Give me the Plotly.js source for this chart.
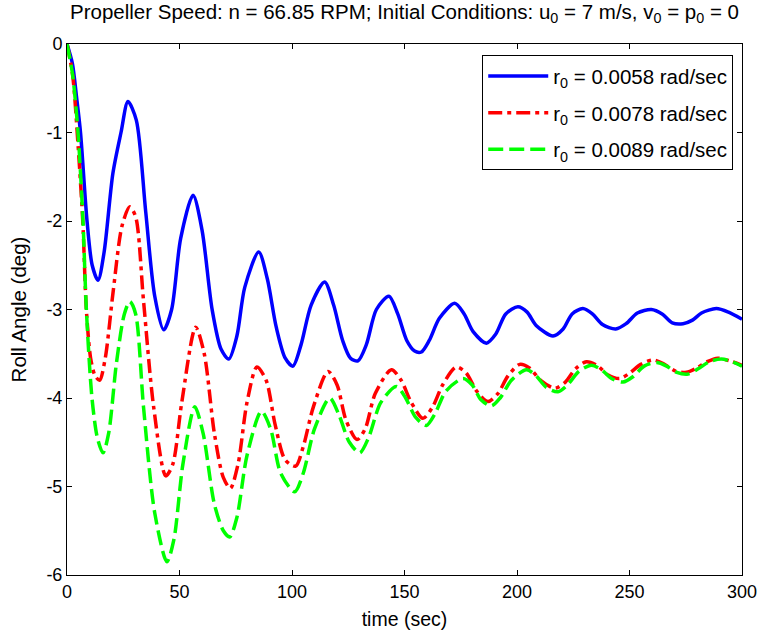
<!DOCTYPE html>
<html>
<head>
<meta charset="utf-8">
<script src="https://cdn.plot.ly/plotly-3.0.1.min.js"></script>
<style>html,body{margin:0;padding:0;background:#fff;}#plot{width:761px;height:636px;}</style>
</head>
<body>
<div id="plot"></div>
<script>
// Series 1: r0 = 0.0058 rad/sec
const tBlue = [0, 2.4, 4.2, 6.0, 8.9, 11.2, 13.8, 16.5, 20.4, 24.0, 27.1, 30.8, 35.0, 39.0, 43.0, 46.5, 50.5, 56.0, 60.0, 64.5, 68.5, 71.9, 75.5, 79.0, 85.2, 89.0, 93.0, 97.0, 100.4, 104.0, 108.5, 114.5, 118.5, 122.5, 126.0, 129.3, 133.0, 137.5, 143.1, 147.0, 151.0, 154.5, 157.5, 161.0, 165.5, 172.3, 176.5, 180.5, 186.4, 190.5, 195.0, 200.4, 204.5, 208.5, 216.0, 220.5, 224.5, 229.3, 233.5, 238.0, 243.9, 248.5, 253.5, 259.7, 264.5, 269.0, 273.8, 278.0, 282.0, 288.6, 294.0, 300];
const yBlue = [0, -0.22, -0.59, -1.0, -2.0, -2.5, -2.67, -2.35, -1.46, -1.0, -0.65, -0.86, -1.9, -2.85, -3.23, -3.0, -2.2, -1.71, -2.1, -3.0, -3.45, -3.56, -3.3, -2.75, -2.35, -2.65, -3.2, -3.55, -3.64, -3.4, -2.95, -2.69, -2.95, -3.35, -3.55, -3.58, -3.4, -3.0, -2.85, -3.05, -3.35, -3.47, -3.48, -3.35, -3.1, -2.93, -3.05, -3.25, -3.38, -3.28, -3.05, -2.97, -3.03, -3.18, -3.30, -3.22, -3.05, -2.99, -3.05, -3.17, -3.22, -3.16, -3.04, -3.00, -3.05, -3.15, -3.16, -3.12, -3.04, -2.99, -3.03, -3.11];

// Series 2: r0 = 0.0078 rad/sec
const tRed = [0, 2.5, 4.8, 7.0, 8.6, 10.5, 12.5, 14.5, 17.0, 20.5, 24.5, 27.9, 30.5, 34.0, 38.5, 43.9, 47.0, 51.0, 57.2, 61.0, 65.5, 69.5, 72.6, 76.0, 80.0, 84.4, 88.5, 92.5, 97.0, 101.6, 105.0, 109.5, 116.0, 120.0, 124.0, 128.9, 132.5, 137.0, 144.2, 148.5, 153.0, 158.2, 162.5, 167.0, 173.0, 177.5, 182.0, 187.1, 191.5, 196.0, 201.2, 205.5, 210.5, 216.8, 221.5, 226.0, 230.8, 235.5, 240.5, 245.6, 250.0, 255.0, 260.4, 265.0, 270.0, 275.3, 280.0, 284.5, 289.3, 294.5, 300];
const yRed = [0, -0.35, -1.1, -2.0, -3.0, -3.55, -3.75, -3.80, -3.55, -2.8, -2.05, -1.84, -1.95, -2.9, -4.1, -4.88, -4.75, -4.05, -3.20, -3.5, -4.4, -4.9, -5.02, -4.75, -4.05, -3.65, -3.8, -4.3, -4.7, -4.77, -4.55, -4.1, -3.70, -3.85, -4.25, -4.47, -4.35, -3.95, -3.68, -3.8, -4.05, -4.23, -4.1, -3.85, -3.65, -3.72, -3.92, -4.04, -3.95, -3.75, -3.62, -3.66, -3.8, -3.89, -3.82, -3.67, -3.59, -3.63, -3.74, -3.78, -3.72, -3.62, -3.57, -3.61, -3.69, -3.71, -3.66, -3.59, -3.55, -3.58, -3.63];

// Series 3: r0 = 0.0089 rad/sec
const tGreen = [0, 2.5, 4.9, 7.1, 8.6, 11.1, 13.5, 16.0, 18.5, 22.0, 25.5, 27.9, 30.5, 34.0, 39.0, 44.4, 47.5, 51.5, 56.8, 60.5, 65.5, 69.5, 72.3, 75.5, 80.0, 86.4, 90.5, 95.0, 101.2, 105.0, 110.0, 116.8, 121.0, 125.5, 130.1, 134.0, 139.5, 146.4, 150.5, 155.0, 159.7, 163.5, 168.5, 176.0, 180.0, 184.0, 188.6, 192.5, 197.5, 204.2, 208.5, 213.0, 218.2, 222.5, 227.5, 233.1, 237.5, 242.0, 247.1, 251.5, 256.5, 262.0, 266.5, 271.0, 276.0, 280.5, 285.5, 290.8, 295.5, 300];
const yGreen = [0, -0.35, -1.0, -2.0, -3.0, -4.0, -4.45, -4.62, -4.4, -3.6, -3.05, -2.91, -3.05, -4.1, -5.3, -5.85, -5.6, -4.75, -4.10, -4.4, -5.2, -5.5, -5.57, -5.35, -4.65, -4.15, -4.35, -4.85, -5.06, -4.85, -4.35, -4.00, -4.2, -4.5, -4.62, -4.45, -4.05, -3.87, -4.0, -4.22, -4.31, -4.18, -3.92, -3.78, -3.85, -4.02, -4.09, -4.0, -3.8, -3.68, -3.75, -3.88, -3.93, -3.85, -3.7, -3.63, -3.68, -3.78, -3.82, -3.76, -3.64, -3.60, -3.64, -3.71, -3.73, -3.67, -3.59, -3.56, -3.59, -3.64];

const seriesNames = ['r<sub>0</sub> = 0.0058 rad/sec', 'r<sub>0</sub> = 0.0078 rad/sec', 'r<sub>0</sub> = 0.0089 rad/sec'];
const xTicks = [0, 50, 100, 150, 200, 250, 300];
const xTickText = ['0', '50', '100', '150', '200', '250', '300'];
const yTicks = [0, -1, -2, -3, -4, -5, -6];
const yTickText = ['0', '-1', '-2', '-3', '-4', '-5', '-6'];

const FONT = 'Liberation Sans, Arial, Helvetica, sans-serif';

const traces = [
  {x: tBlue, y: yBlue, name: seriesNames[0], mode: 'lines', legendgroup: 'a',
   line: {color: '#0000ff', width: 3.5, shape: 'spline', smoothing: 0.8}},
  {x: tRed, y: yRed, name: seriesNames[1], mode: 'lines', legendgroup: 'b',
   line: {color: '#ff0000', width: 3.5, dash: '14px,5px,4px,5px', shape: 'spline', smoothing: 0.8}},
  {x: tGreen, y: yGreen, name: seriesNames[2], mode: 'lines', legendgroup: 'c',
   line: {color: '#00ff00', width: 3.5, dash: '15px,6px', shape: 'spline', smoothing: 0.8}}
];

const layout = {
  width: 761, height: 636,
  margin: {l: 67, r: 19, t: 44, b: 61},
  paper_bgcolor: '#fff', plot_bgcolor: '#fff',
  font: {family: FONT, size: 18, color: '#000'},
  title: {text: 'Propeller Speed: n = 66.85 RPM; Initial Conditions: u<sub>0</sub> = 7 m/s, v<sub>0</sub> = p<sub>0</sub> = 0',
          font: {family: FONT, size: 20.5, color: '#000'}, x: 0.5, xref: 'paper', xanchor: 'center',
          y: 0.993, yref: 'container', yanchor: 'top'},
  xaxis: {range: [0, 300], tickvals: xTicks, ticktext: xTickText, ticks: 'inside', ticklen: 5, tickcolor: '#000',
          showline: true, linecolor: '#000', linewidth: 1, mirror: 'ticks', showgrid: false, zeroline: false,
          tickfont: {size: 18}, title: {text: 'time (sec)', font: {size: 19.5}, standoff: 11}},
  yaxis: {range: [-6, 0], tickvals: yTicks, ticktext: yTickText, ticks: 'inside', ticklen: 5, tickcolor: '#000',
          showline: true, linecolor: '#000', linewidth: 1, mirror: 'ticks', showgrid: false, zeroline: false,
          tickfont: {size: 18}, title: {text: 'Roll Angle (deg)', font: {size: 20.5}, standoff: 14}},
  legend: {x: 0.987, xanchor: 'right', y: 0.979, yanchor: 'top', bordercolor: '#000', borderwidth: 1,
           bgcolor: '#fff', font: {size: 20.5}, tracegroupgap: 7, itemwidth: 60},
  showlegend: true
};

Plotly.newPlot('plot', traces, layout, {displayModeBar: false, staticPlot: true});
</script>
</body>
</html>
